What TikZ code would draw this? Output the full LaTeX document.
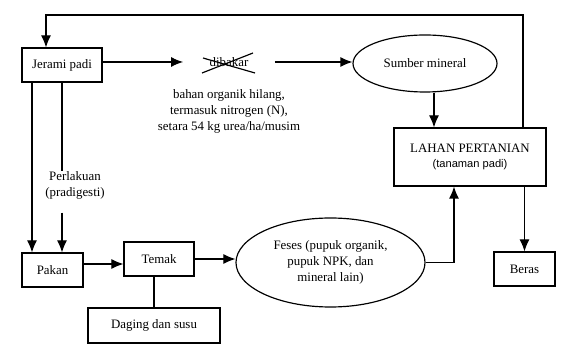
\documentclass[tikz,border=0pt]{standalone}
\usepackage{fontspec}
\setmainfont{Liberation Serif}
\newfontfamily\narrowsans{Liberation Sans}
\usetikzlibrary{arrows.meta, shapes.geometric, calc}

\begin{document}
\begin{tikzpicture}[x=0.03cm,y=-0.03cm,->,>={Latex[length=3.6mm,width=3mm]},line width=1pt,
    font=\fontsize{11}{13.6}\selectfont,
    kotak/.style={draw,rectangle,inner sep=0pt,minimum height=1.02cm,align=center},
    elips/.style={draw,ellipse,inner sep=0pt,align=center},
    teks/.style={align=center,inner sep=0pt}]
    \useasboundingbox (0,0) rectangle (564,349);

    \node[kotak,minimum width=2.4cm] (jerami) at (62,65) {Jerami padi};
    \node[kotak,minimum width=1.83cm] (pakan) at (52.5,270) {Pakan};
    \node[kotak,minimum width=2.1cm] (temak) at (159,259) {Temak};
    \node[kotak,minimum width=3.96cm,minimum height=1.05cm] (daging) at (154,325.5) {Daging dan susu};
    \node[elips,minimum width=5.67cm,minimum height=2.67cm] (feses) at (330.5,262.5)
        {Feses (pupuk organik,\\pupuk NPK, dan\\mineral lain)};
    \node[elips,minimum width=4.32cm,minimum height=1.71cm] (sumber) at (425,63.5) {Sumber mineral};
    \node[kotak,minimum width=4.56cm,minimum height=1.74cm] (lahan) at (470,157)
        {LAHAN PERTANIAN\\[-1pt]{\narrowsans\fontsize{9.5}{11}\selectfont(tanaman padi)}};
    \node[kotak,minimum width=1.83cm] (beras) at (524.5,269) {Beras};

    \node[teks,inner xsep=0.78cm] (dibakar) at (229,62) {dibakar};
    \node[teks] (hilang) at (229,111) {bahan organik hilang,\\termasuk nitrogen (N),\\setara 54 kg urea/ha/musim};
    \node[teks] (perlakuan) at (75,185) {Perlakuan\\(pradigesti)};
    \coordinate (kananatas) at (523,15);
    \coordinate (kiriatas) at (46,15);
    \coordinate (kiri) at (32,82);

    % coret dibakar
    \draw[-] ([shift={(-27,11)}]dibakar.center) -- ([shift={(24,-9)}]dibakar.center);
    \draw[-] ([shift={(-26,-4)}]dibakar.center) -- ([shift={(26,11)}]dibakar.center);

    \draw (jerami.east |- dibakar) -- (dibakar.west);
    \draw (dibakar.east) -- (dibakar.east -| sumber.west);
    \draw ([xshift=0.27cm]sumber.south) -- ([xshift=0.27cm]sumber.south |- lahan.north);
    \draw (lahan.north -| kananatas) -- (kananatas) -- (kiriatas) -- (jerami.north -| kiriatas);
    \draw (lahan.south -| beras.north) -- (beras.north);
    \draw (kiri) -- (pakan.north -| kiri);
    \draw[-] (jerami.south) -- (jerami.south |- perlakuan.north);
    \draw ([yshift=-0.4cm]jerami.south |- perlakuan.south) -- (jerami.south |- pakan.north);
    \draw ([yshift=0.18cm]pakan.east) -- ([yshift=0.18cm]pakan.east -| temak.west);
    \draw[-] (daging.north |- temak.south) -- (daging.north);
    \draw (temak.east) -- (temak.east -| feses.west);
    \draw (feses.east) -| ([xshift=-0.48cm]lahan.south);
\end{tikzpicture}
\end{document}
